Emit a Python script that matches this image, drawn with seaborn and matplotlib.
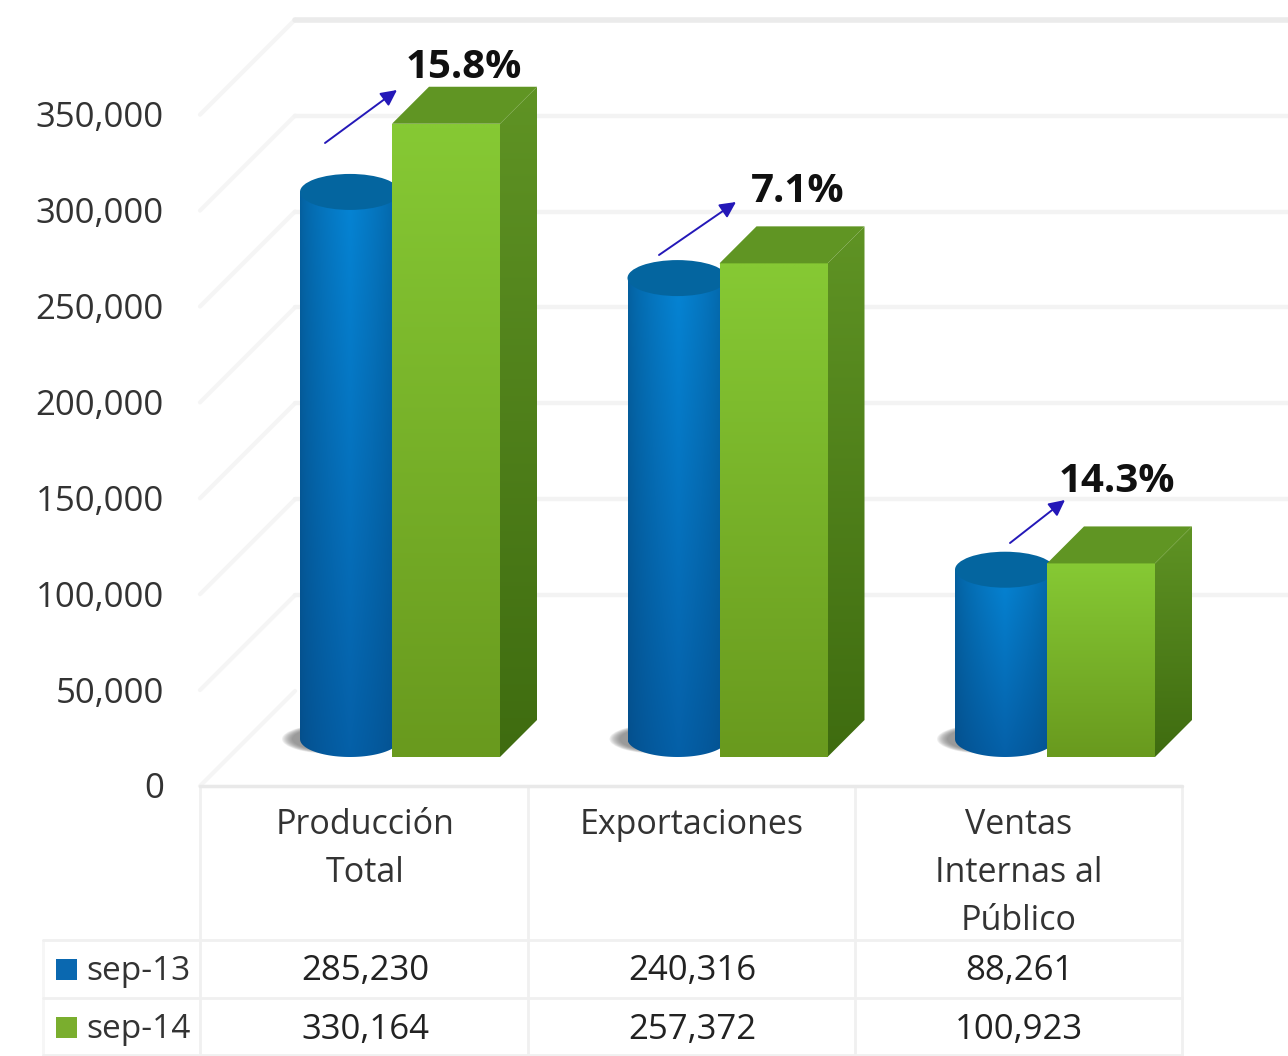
import numpy as np
import pandas as pd
import matplotlib
matplotlib.use("Agg")
import matplotlib.pyplot as plt
import seaborn as sns
from matplotlib.patches import Ellipse, Polygon
from matplotlib.path import Path
from matplotlib.transforms import Affine2D
from matplotlib.colors import to_rgb

categorias = ["Producción\nTotal", "Exportaciones", "Ventas\nInternas al\nPúblico"]
periodos = ["sep-13", "sep-14"]
sep_13 = [285230, 240316, 88261]
sep_14 = [330164, 257372, 100923]
variacion = ["15.8%", "7.1%", "14.3%"]
marcas_y = [0, 50000, 100000, 150000, 200000, 250000, 300000, 350000]

W, H = 1288, 1056
PX_X = 327.5          # pixels per category
PX_Y = 0.001918       # pixels per unit of value
X0, Y0 = 400, 757     # pixel of first group centre and of the bars' base
FLOOR = 786
DEPTH_WALL = 95
DEPTH_BOX = 37
TEXT = "#333333"

sns.set_theme(style="white")
plt.rcParams["font.family"] = ["Open Sans", "DejaVu Sans"]

fig = plt.figure(figsize=(W / 100, H / 100), dpi=100, facecolor="white")
ax = fig.add_axes([0, 0, 1, 1], zorder=2)
ax.patch.set_alpha(0)
PX = Affine2D().scale(1, -1).translate(0, H)

df = pd.DataFrame({
    "categoria": categorias * 2,
    "periodo": [periodos[0]] * 3 + [periodos[1]] * 3,
    "valor": sep_13 + sep_14,
})
sns.barplot(data=df, x="categoria", y="valor", hue="periodo",
            palette=["#0070BC", "#7AB62C"], width=200 / PX_X, gap=0,
            legend=False, ax=ax, zorder=3)
xlim = (-X0 / PX_X, (W - X0) / PX_X)
ylim = (-(H - Y0) / PX_Y, Y0 / PX_Y)


def mezcla(a, b, t):
    a, b = np.array(to_rgb(a)), np.array(to_rgb(b))
    return a[None, None, :] * (1 - t[..., None]) + b[None, None, :] * t[..., None]


def pintar(grad, extent, verts, z):
    im = ax.imshow(grad, extent=extent, aspect="auto", origin="upper",
                   interpolation="bilinear", zorder=z)
    im.set_clip_path(Path(verts), transform=ax.transData)


dy_elip = 18 / PX_Y
ang = np.linspace(np.pi, 2 * np.pi, 60)
for rect in ax.containers[0]:
    x0, w, h = rect.get_x(), rect.get_width(), rect.get_height()
    rect.set_visible(False)
    cx = x0 + w / 2
    # sombra
    for s in np.linspace(1.0, 0.8, 10):
        ax.add_patch(Ellipse((cx - 18 / PX_X, dy_elip), w * s, 2 * dy_elip * s * 0.82,
                             color="#6a6a6a", alpha=0.1, lw=0, zorder=1))
    # cuerpo
    base = np.column_stack([cx + w / 2 * np.cos(ang), dy_elip + dy_elip * np.sin(ang)])
    top = h + dy_elip
    verts = np.vstack([[x0, top], base, [x0 + w, top], [x0, top]])
    u = np.linspace(0, 1, 60)
    perfil = np.clip(1 - np.abs(u - 0.5) / 0.5, 0, 1) ** 0.7
    v = np.linspace(0, 1, 60)[:, None]
    claro = np.array(to_rgb("#0684D4"))[None, None, :] * (1 - v[..., None]) + \
        np.array(to_rgb("#0560A8"))[None, None, :] * v[..., None]
    oscuro = np.array(to_rgb("#04609F"))[None, None, :] * (1 - v[..., None]) + \
        np.array(to_rgb("#044F8C"))[None, None, :] * v[..., None]
    t = perfil[None, :, None]
    grad = oscuro * (1 - t) + claro * t
    pintar(grad, (x0, x0 + w, 0, top), verts, 2)
    ax.add_patch(Ellipse((cx, top), w, 2 * dy_elip, color="#04659F", lw=0, zorder=2.5))

dx = DEPTH_BOX / PX_X
dy = DEPTH_BOX / PX_Y
for rect in ax.containers[1]:
    x0, w, h = rect.get_x(), rect.get_width(), rect.get_height()
    x0 -= 8 / PX_X
    w += 8 / PX_X
    rect.set_visible(False)
    x1 = x0 + w
    v = np.linspace(0, 1, 60)[:, None] * np.ones((60, 2))
    pintar(mezcla("#86C934", "#699A1E", v), (x0, x1, 0, h),
           [(x0, 0), (x0, h), (x1, h), (x1, 0), (x0, 0)], 3)
    pintar(mezcla("#5F9324", "#3F6C10", v), (x1, x1 + dx, 0, h + dy),
           [(x1, 0), (x1, h), (x1 + dx, h + dy), (x1 + dx, dy), (x1, 0)], 3)
    ax.add_patch(Polygon([(x0, h), (x1, h), (x1 + dx, h + dy), (x0 + dx, h + dy)],
                         color="#609523", lw=0, zorder=3))

ax.set_xlim(xlim)
ax.set_ylim(ylim)
ax.set_axis_off()

# paredes
for val in marcas_y:
    yf = FLOOR - val * PX_Y
    yb = yf - DEPTH_WALL
    ax.plot([200, 295], [yf, yb], color="#f5f5f5", lw=3, transform=PX, zorder=0, clip_on=False)
    col, lw = ("#ebebeb", 4) if val == marcas_y[-1] else ("#f3f3f3", 3.2)
    if val > 0:
        ax.plot([295, W], [yb, yb], color=col, lw=lw, transform=PX, zorder=0)

# tabla de datos
LINEA = "#f0f0f0"
for x in (200, 528, 855, 1182):
    ax.plot([x, x], [FLOOR, H], color=LINEA, lw=2, transform=PX, zorder=0, clip_on=False)
ax.plot([43, 43], [940, H], color="#f6f6f6", lw=2, transform=PX, zorder=0)
ax.plot([200, 1182], [FLOOR, FLOOR], color="#e9e9e9", lw=2.5, transform=PX, zorder=0)
for y in (940, 998, H - 1.5):
    ax.plot([43, 1182], [y, y], color=LINEA, lw=2, transform=PX, zorder=0)

cols = [365, 692, 1019]
for cx, cat, a, b in zip(cols, categorias, sep_13, sep_14):
    for j, linea in enumerate(cat.split("\n")):
        ax.text(cx, 825 + 48 * j, linea, transform=PX, ha="center", va="center",
                fontsize=24.5, color=TEXT)
    ax.text(cx, 971, f"{a:,}", transform=PX, ha="center", va="center", fontsize=25, color="#222222")
    ax.text(cx, 1030, f"{b:,}", transform=PX, ha="center", va="center", fontsize=25, color="#222222")

for yc, per, col in zip((969, 1027), periodos, ("#0A68B0", "#7AAE2E")):
    ax.add_patch(Polygon([(56, yc - 10), (77, yc - 10), (77, yc + 11), (56, yc + 11)],
                         transform=PX, color=col, lw=0, zorder=4))
    ax.text(86, yc + 2, per, transform=PX, ha="left", va="center", fontsize=24, color=TEXT)

# variaciones
arrows = [((325, 143), (397, 90)), ((659, 255), (736, 202)), ((1010, 543), (1065, 500))]
posic = [(464, 68), (798, 191), (1117, 481)]
for (a, b), (tx, ty), txt in zip(arrows, posic, variacion):
    ax.annotate("", xy=b, xytext=a, xycoords=PX, textcoords=PX,
                arrowprops=dict(arrowstyle="-|>", color="#2418B8", lw=1.4,
                                mutation_scale=24, shrinkA=0, shrinkB=0), zorder=5)
    ax.text(tx, ty, txt, transform=PX, ha="center", va="center", fontsize=29,
            fontweight="bold", color="#101010")

# eje de valores
top_px = 19
ax2 = fig.add_axes([200 / W, (H - FLOOR + 0.5) / H, (W - 200) / W, (FLOOR - top_px) / H], zorder=1)
ax2.patch.set_alpha(0)
ax2.set_xlim(0, 1)
ax2.set_ylim(0, (FLOOR - top_px) / PX_Y)
ax2.set_xticks([])
ax2.set_yticks(marcas_y)
ax2.set_yticklabels([f"{m:,}" for m in marcas_y], fontsize=25, color=TEXT)
ax2.tick_params(axis="y", length=0, pad=26)
sns.despine(ax=ax2, left=True, bottom=True, top=True, right=True)
ax2.grid(False)

fig.savefig("out.png", dpi=100)
